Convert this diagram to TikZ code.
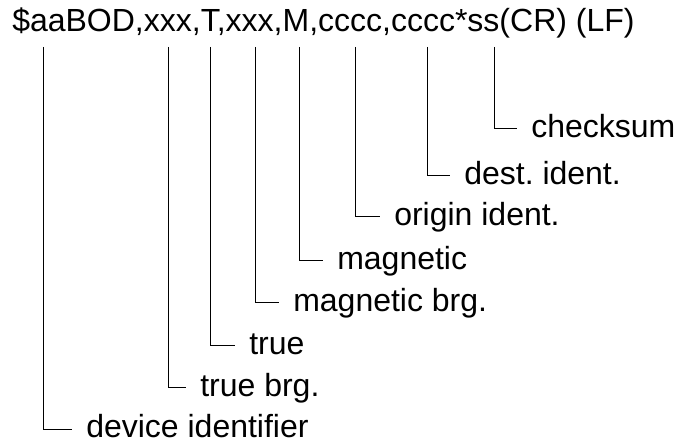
\documentclass[tikz,border=0pt]{standalone}
\usepackage{fontspec}
\setmainfont{Liberation Sans}
\usetikzlibrary{positioning}
\frenchspacing

\begin{document}
\begin{tikzpicture}[x=0.75pt,y=-0.75pt]
\useasboundingbox (0,0) rectangle (675,445);

\node[inner sep=0pt,anchor=base west,font=\fontsize{24}{28}\selectfont] (msg) at (12,32)
    {\$aaBOD,xxx,T,xxx,M,cccc,cccc*ss(CR) (LF)};

% drop points under the sentence
\coordinate (c0) at (43,47);
\coordinate (c1) at (168,47);
\coordinate (c2) at (210,47);
\coordinate (c3) at (255,47);
\coordinate (c4) at (299,47);
\coordinate (c5) at (355,47);
\coordinate (c6) at (427,47);
\coordinate (c7) at (494,47);

\begin{scope}[every node/.style={anchor=west,inner xsep=10.5pt,inner ysep=0pt,
                                 text height=12.5pt,text depth=0pt,
                                 font=\fontsize{24}{28}\selectfont}]
    \node (f0) at (72,429) {device identifier};
    \node (f1) at (186,388) {true brg.};
    \node (f2) at (235,346) {true};
    \node (f3) at (279,303) {magnetic brg.};
    \node (f4) at (323,261) {magnetic};
    \node (f5) at (380,217) {origin ident.};
    \node (f6) at (450,176) {dest. ident.};
    \node (f7) at (517,129) {checksum};
\end{scope}

\begin{scope}[every path/.style={draw=black,line width=0.75pt}]
    \path (c0) |- (f0.west);
    \path (c1) |- (f1.west);
    \path (c2) |- (f2.west);
    \path (c3) |- (f3.west);
    \path (c4) |- (f4.west);
    \path (c5) |- (f5.west);
    \path (c6) |- (f6.west);
    \path (c7) |- (f7.west);
\end{scope}
\end{tikzpicture}
\end{document}
